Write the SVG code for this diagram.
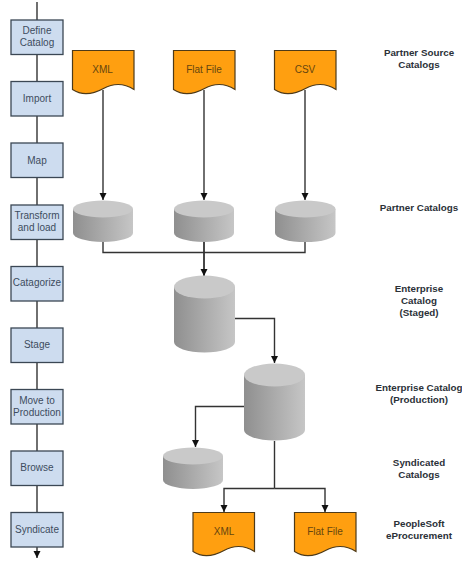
<svg xmlns="http://www.w3.org/2000/svg" width="462" height="561" viewBox="0 0 462 561">
<style>
text{font-family:"Liberation Sans",Arial,sans-serif;font-size:10px;text-anchor:middle}
.step rect{fill:#cddcef;stroke:#3b4754;stroke-width:1.3}
.step text{fill:#3d4c5e}
.doc path{fill:#ff9f10;stroke:#4e3a18;stroke-width:1.2}
.doc text{fill:#66460f}
.cyl .b{fill:url(#g)}
.cyl .t{fill:#c9c9c9}
.lab{font-weight:bold;fill:#2b3138;font-size:9.800px}
.c{fill:none;stroke:#333;stroke-width:1.400}
</style>
<defs>
<linearGradient id="g"><stop offset="0" stop-color="#8f8f8f"/><stop offset="1" stop-color="#c6c6c6"/></linearGradient>
<marker id="a" markerUnits="userSpaceOnUse" markerWidth="8" markerHeight="8" refX="7" refY="3.500" orient="auto"><path d="M0 0L7 3.500L0 7z" fill="#111"/></marker>
</defs>
<g id="connectors">
<path class="c" d="M37 2V558" marker-end="url(#a)"/>
<path class="c" d="M103 90V200" marker-end="url(#a)"/>
<path class="c" d="M204 90V200" marker-end="url(#a)"/>
<path class="c" d="M305 90V200" marker-end="url(#a)"/>
<path class="c" d="M103 242V252.500H305V242"/>
<path class="c" d="M204 242V276" marker-end="url(#a)" style="stroke-width:1.800"/>
<path class="c" d="M235 318.500H274.500V363" marker-end="url(#a)"/>
<path class="c" d="M244 406.500H195.500V447" marker-end="url(#a)"/>
<path class="c" d="M274.500 441V488.500"/>
<path class="c" d="M274.500 488.500H325V512" marker-end="url(#a)"/>
<path class="c" d="M274.500 488.500H224V512" marker-end="url(#a)"/>
</g>
<g id="define" class="step"><rect x="11" y="20" width="52" height="34.500"/><text x="37" y="34">Define</text><text x="37" y="46">Catalog</text></g>
<g id="import" class="step"><rect x="11" y="81.500" width="52" height="34.500"/><text x="37" y="102">Import</text></g>
<g id="map" class="step"><rect x="11" y="143" width="52" height="34.500"/><text x="37" y="164">Map</text></g>
<g id="transform" class="step"><rect x="11" y="205" width="52" height="34.500"/><text x="37" y="219">Transform</text><text x="37" y="231">and load</text></g>
<g id="catagorize" class="step"><rect x="11" y="266.500" width="52" height="34.500"/><text x="37" y="286">Catagorize</text></g>
<g id="stage" class="step"><rect x="11" y="328" width="52" height="34.500"/><text x="37" y="348">Stage</text></g>
<g id="move" class="step"><rect x="11" y="389.500" width="52" height="34.500"/><text x="37" y="404">Move to</text><text x="37" y="416">Production</text></g>
<g id="browse" class="step"><rect x="11" y="451" width="52" height="34.500"/><text x="37" y="471">Browse</text></g>
<g id="syndicate" class="step"><rect x="11" y="512.500" width="52" height="34.500"/><text x="37" y="533">Syndicate</text></g>
<g id="doc-xml" class="doc"><path transform="translate(72.500 50.500)" d="M0 0H61.500V39C52 33 42 32 31 38C20 44 9 45 0 39Z"/><text x="102.500" y="73">XML</text></g>
<g id="doc-flat" class="doc"><path transform="translate(173.500 50.500)" d="M0 0H61.500V39C52 33 42 32 31 38C20 44 9 45 0 39Z"/><text x="204" y="73">Flat File</text></g>
<g id="doc-csv" class="doc"><path transform="translate(274.500 50.500)" d="M0 0H61.500V39C52 33 42 32 31 38C20 44 9 45 0 39Z"/><text x="305" y="73">CSV</text></g>
<g id="doc-xml2" class="doc"><path transform="translate(193 512.500)" d="M0 0H61.500V39C52 33 42 32 31 38C20 44 9 45 0 39Z"/><text x="224" y="535">XML</text></g>
<g id="doc-flat2" class="doc"><path transform="translate(294.500 512.500)" d="M0 0H61.500V39C52 33 42 32 31 38C20 44 9 45 0 39Z"/><text x="325" y="535">Flat File</text></g>
<g id="cyl-1" class="cyl"><path class="b" d="M73 209V233A30 9 0 0 0 133 233V209Z"/><ellipse class="t" cx="103" cy="209" rx="30" ry="8.500"/></g>
<g id="cyl-2" class="cyl"><path class="b" d="M174 209V233A30 9 0 0 0 234 233V209Z"/><ellipse class="t" cx="204" cy="209" rx="30" ry="8.500"/></g>
<g id="cyl-3" class="cyl"><path class="b" d="M275 209V233A30 9 0 0 0 335.500 233V209Z"/><ellipse class="t" cx="305.250" cy="209" rx="30.250" ry="8.500"/></g>
<g id="cyl-staged" class="cyl"><path class="b" d="M174 287V342A30.500 10.500 0 0 0 235 342V287Z"/><ellipse class="t" cx="204.500" cy="287" rx="30.500" ry="11.500"/></g>
<g id="cyl-production" class="cyl"><path class="b" d="M244 375V430A30.500 10.500 0 0 0 305 430V375Z"/><ellipse class="t" cx="274.500" cy="375" rx="30.500" ry="11.500"/></g>
<g id="cyl-syndicated" class="cyl"><path class="b" d="M163 456V480A30 9 0 0 0 223 480V456Z"/><ellipse class="t" cx="193" cy="456" rx="30" ry="8.500"/></g>
<g id="labels">
<text class="lab" x="419" y="56">Partner Source</text><text class="lab" x="419" y="68">Catalogs</text>
<text class="lab" x="419" y="211">Partner Catalogs</text>
<text class="lab" x="419" y="292">Enterprise</text><text class="lab" x="419" y="304">Catalog</text><text class="lab" x="419" y="316">(Staged)</text>
<text class="lab" x="419" y="391">Enterprise Catalog</text><text class="lab" x="419" y="403">(Production)</text>
<text class="lab" x="419" y="466">Syndicated</text><text class="lab" x="419" y="478">Catalogs</text>
<text class="lab" x="419" y="527">PeopleSoft</text><text class="lab" x="419" y="539">eProcurement</text>
</g>
</svg>
